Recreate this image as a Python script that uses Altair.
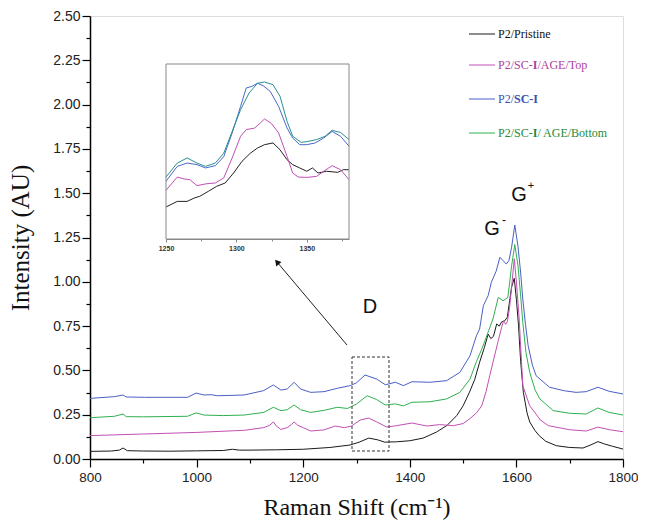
import altair as alt
import pandas as pd

# ---------------- data ----------------
series_names = ["P2/Pristine", "P2/SC-I/AGE/Top", "P2/SC-I", "P2/SC-I/ AGE/Bottom"]
line_colors = ["#1a1a1a", "#c24fb4", "#4a5fc4", "#2fb04f"]
inset_colors = ["#222222", "#c24fb4", "#4a68cc", "#2a8f8f"]

pristine_x = [800, 840, 855, 862, 870, 900, 950, 1000, 1050, 1067, 1080, 1100, 1150, 1200, 1250, 1288,
              1305, 1323, 1340, 1353, 1375, 1400, 1425, 1450, 1470, 1488, 1500, 1512, 1522, 1531, 1540,
              1547, 1552, 1557, 1563, 1568, 1572, 1578, 1583, 1587, 1591, 1596, 1600, 1604, 1608, 1613,
              1620, 1625, 1635, 1643, 1655, 1675, 1700, 1725, 1740, 1753, 1765, 1780, 1800]
pristine_y = [0.043, 0.045, 0.050, 0.062, 0.047, 0.045, 0.044, 0.046, 0.048, 0.055, 0.050, 0.050, 0.052,
              0.055, 0.065, 0.079, 0.095, 0.118, 0.108, 0.095, 0.097, 0.103, 0.118, 0.152, 0.190, 0.245,
              0.300, 0.377, 0.450, 0.546, 0.630, 0.705, 0.680, 0.692, 0.762, 0.750, 0.773, 0.780, 0.800,
              0.886, 0.970, 1.020, 0.900, 0.752, 0.550, 0.377, 0.260, 0.209, 0.160, 0.131, 0.100, 0.075,
              0.065, 0.062, 0.080, 0.098, 0.085, 0.072, 0.056]

top_x = [800, 900, 1000, 1090, 1126, 1137, 1144, 1150, 1158, 1170, 1178, 1183, 1190, 1200, 1214, 1239,
         1260, 1277, 1290, 1307, 1323, 1338, 1357, 1375, 1404, 1432, 1456, 1482, 1500, 1512, 1525, 1535,
         1543, 1550, 1558, 1566, 1572, 1576, 1580, 1583, 1587, 1591, 1596, 1600, 1605, 1612, 1625, 1634,
         1645, 1660, 1700, 1731, 1753, 1775, 1800]
top_y = [0.132, 0.141, 0.150, 0.162, 0.177, 0.190, 0.209, 0.185, 0.167, 0.177, 0.195, 0.209, 0.190,
         0.177, 0.158, 0.164, 0.186, 0.177, 0.185, 0.220, 0.231, 0.209, 0.180, 0.188, 0.203, 0.186,
         0.194, 0.188, 0.200, 0.226, 0.260, 0.300, 0.380, 0.470, 0.570, 0.668, 0.740, 0.780, 0.760,
         0.775, 0.850, 0.970, 1.130, 1.000, 0.800, 0.414, 0.300, 0.265, 0.220, 0.188, 0.165, 0.158,
         0.180, 0.165, 0.154]

sc_x = [800, 846, 862, 868, 902, 983, 999, 1014, 1027, 1039, 1089, 1126, 1144, 1158, 1170, 1183, 1195,
        1214, 1239, 1264, 1288, 1300, 1316, 1338, 1354, 1373, 1388, 1404, 1438, 1469, 1494, 1513, 1525,
        1531, 1538, 1547, 1553, 1562, 1569, 1575, 1581, 1586, 1591, 1597, 1603, 1608, 1612, 1617, 1622,
        1630, 1637, 1662, 1690, 1712, 1731, 1753, 1774, 1800]
sc_y = [0.342, 0.352, 0.361, 0.350, 0.348, 0.348, 0.372, 0.361, 0.363, 0.357, 0.361, 0.386, 0.418,
        0.389, 0.395, 0.433, 0.395, 0.376, 0.380, 0.399, 0.414, 0.430, 0.474, 0.451, 0.419, 0.433,
        0.414, 0.436, 0.433, 0.442, 0.489, 0.583, 0.696, 0.734, 0.865, 0.922, 0.997, 1.060, 1.138,
        1.120, 1.100, 1.120, 1.195, 1.320, 1.200, 1.050, 0.903, 0.760, 0.640, 0.530, 0.470, 0.405,
        0.385, 0.376, 0.380, 0.405, 0.382, 0.367]

bottom_x = [800, 846, 862, 868, 900, 983, 999, 1014, 1050, 1089, 1126, 1144, 1158, 1170, 1183, 1195,
            1214, 1240, 1264, 1283, 1300, 1320, 1338, 1354, 1373, 1388, 1404, 1438, 1469, 1494, 1513,
            1525, 1535, 1545, 1556, 1566, 1575, 1584, 1591, 1597, 1603, 1608, 1612, 1618, 1625, 1635,
            1644, 1669, 1700, 1731, 1753, 1774, 1800]
bottom_y = [0.233, 0.241, 0.254, 0.239, 0.238, 0.241, 0.260, 0.248, 0.245, 0.248, 0.263, 0.292, 0.273,
            0.278, 0.305, 0.278, 0.263, 0.275, 0.292, 0.285, 0.310, 0.357, 0.335, 0.305, 0.311, 0.300,
            0.320, 0.323, 0.339, 0.376, 0.451, 0.550, 0.620, 0.700, 0.790, 0.912, 0.893, 0.912, 1.090,
            1.210, 1.090, 0.920, 0.771, 0.600, 0.489, 0.390, 0.339, 0.273, 0.258, 0.254, 0.288, 0.263,
            0.248]

# inset (zoom of the D band, arbitrary intensity units 0-100)
in_pristine_x = [1250, 1258, 1265, 1270, 1274, 1280, 1286, 1292, 1298, 1304, 1310, 1315, 1320, 1326,
                 1331, 1336, 1340, 1345, 1350, 1354, 1358, 1364, 1372, 1376, 1380]
in_pristine_y = [18.3, 21.5, 21.5, 23.4, 24.4, 27.2, 30.1, 32.0, 37.7, 44.4, 49.1, 52.0, 53.9, 54.9,
                 51.0, 45.3, 42.5, 40.6, 38.7, 40.6, 37.7, 38.7, 38.1, 39.6, 39.6]
in_top_x = [1250, 1258, 1263, 1267, 1272, 1279, 1285, 1291, 1297, 1303, 1307, 1313, 1317, 1320, 1325,
            1330, 1336, 1340, 1344, 1350, 1357, 1362, 1368, 1374, 1380]
in_top_y = [27.8, 35.4, 34.3, 33.9, 30.5, 31.6, 32.0, 34.9, 46.3, 58.7, 62.5, 63.4, 66.3, 68.6, 65.9,
            60.6, 47.2, 37.7, 35.4, 35.2, 35.8, 38.7, 41.9, 39.6, 33.9]
in_sc_x = [1250, 1258, 1265, 1272, 1278, 1285, 1291, 1297, 1303, 1307, 1311, 1315, 1319, 1324, 1330,
           1336, 1340, 1345, 1350, 1356, 1362, 1368, 1374, 1380]
in_sc_y = [33.0, 41.5, 43.4, 42.5, 40.6, 41.9, 47.0, 60.6, 75.8, 86.3, 87.2, 89.0, 87.6, 84.4, 75.8,
           63.4, 57.7, 53.9, 53.9, 54.9, 57.7, 61.5, 58.7, 53.0]
in_bottom_x = [1250, 1258, 1265, 1272, 1278, 1285, 1291, 1297, 1303, 1309, 1315, 1320, 1326, 1331, 1336,
               1340, 1346, 1351, 1357, 1363, 1368, 1374, 1380]
in_bottom_y = [35.4, 43.4, 46.3, 43.4, 41.5, 43.4, 49.0, 61.5, 73.9, 83.4, 89.0, 89.7, 88.2, 81.5, 67.2,
               58.7, 55.2, 55.8, 56.8, 58.7, 62.1, 60.9, 56.8]

x_ticks = [800, 900, 1000, 1100, 1200, 1300, 1400, 1500, 1600, 1700, 1800]
y_ticks = [i * 0.125 for i in range(21)]
inset_ticks = [1250, 1275, 1300, 1325, 1350, 1375]


def frame(name, xs, ys):
    return pd.DataFrame({"series": name, "shift": xs, "intensity": ys, "order": range(len(xs))})


main_df = pd.concat([
    frame(series_names[0], pristine_x, pristine_y),
    frame(series_names[1], top_x, top_y),
    frame(series_names[2], sc_x, sc_y),
    frame(series_names[3], bottom_x, bottom_y),
])
inset_df = pd.concat([
    frame(series_names[0], in_pristine_x, in_pristine_y),
    frame(series_names[1], in_top_x, in_top_y),
    frame(series_names[2], in_sc_x, in_sc_y),
    frame(series_names[3], in_bottom_x, in_bottom_y),
])

W, H = 533, 443
DX, DY = 2, 1   # shift of the annotation layer relative to the first layout
SANS = "Liberation Sans"
SERIF = "Liberation Serif"

main = alt.Chart(main_df).mark_line(strokeWidth=1).encode(
    x=alt.X("shift:Q", scale=alt.Scale(domain=[800, 1800], nice=False, zero=False),
            title="Raman Shift (cm\u207b\u00b9)",
            axis=alt.Axis(values=x_ticks, grid=False, labelFlush=False, labelOverlap=False,
                          labelExpr="datum.value % 200 == 0 ? datum.label : ''",
                          format="d",
                          tickSize={"condition": {"test": "datum.value % 200 == 0", "value": 8}, "value": 4},
                          labelFont=SANS, labelFontSize=13.5, labelColor="#222", labelPadding=3,
                          domainColor="black", domainWidth=1.5, tickColor="black", tickWidth=1.2,
                          titleFont=SERIF, titleFontSize=24, titleFontWeight="normal", titleColor="#111",
                          titlePadding=12)),
    y=alt.Y("intensity:Q", scale=alt.Scale(domain=[0, 2.5], nice=False, zero=False),
            title="Intensity (AU)",
            axis=alt.Axis(values=y_ticks, grid=False, labelOverlap=False, format=".2f",
                          labelExpr="abs(datum.value*4 - round(datum.value*4)) < 0.001 ? datum.label : ''",
                          tickSize={"condition": {"test": "abs(datum.value*4 - round(datum.value*4)) < 0.001",
                                                  "value": 8}, "value": 4},
                          labelFont=SANS, labelFontSize=14, labelColor="#222", labelPadding=2,
                          domainColor="black", domainWidth=1.5, tickColor="black", tickWidth=1.2,
                          titleFont=SERIF, titleFontSize=25, titleFontWeight="normal", titleColor="#111",
                          titlePadding=19)),
    color=alt.Color("series:N", scale=alt.Scale(domain=series_names, range=line_colors), legend=None),
    order="order:Q",
)

inset_lines = alt.Chart(inset_df).mark_line(strokeWidth=1).encode(
    x=alt.X("shift:Q", scale=alt.Scale(domain=[1250, 1380], range=[74 + DX, 257 + DX], nice=False, zero=False),
            title=None,
            axis=alt.Axis(orient="bottom", offset=-(H - 222 - DY), values=inset_ticks, grid=False,
                          labelFlush=False, labelOverlap=False, format="d",
                          labelExpr="datum.value % 50 == 0 ? datum.label : ''",
                          tickSize={"condition": {"test": "datum.value % 50 == 0", "value": 3}, "value": 2},
                          labelFont=SANS, labelFontSize=7, labelFontWeight="bold", labelColor="#333",
                          labelPadding=2, domainColor="#888", tickColor="#888")),
    y=alt.Y("intensity:Q", scale=alt.Scale(domain=[0, 100], range=[222 + DY, 47 + DY], nice=False, zero=False),
            axis=None),
    color=alt.Color("series:N", scale=alt.Scale(domain=series_names, range=inset_colors), legend=None),
    order="order:Q",
)

one = pd.DataFrame({"k": [0]})

inset_frame = alt.Chart(one).mark_rect(fillOpacity=0, stroke="#888", strokeWidth=1).encode(
    x=alt.value(74 + DX), x2=alt.value(257 + DX), y=alt.value(47 + DY), y2=alt.value(222 + DY))

d_box = alt.Chart(one).mark_rect(fillOpacity=0, stroke="#333", strokeWidth=1, strokeDash=[3, 2]).encode(
    x=alt.value(260 + DX), x2=alt.value(297 + DX), y=alt.value(340 + DY), y2=alt.value(434 + DY))

arrow_line = alt.Chart(one).mark_rule(color="#222", strokeWidth=1).encode(
    x=alt.value(255 + DX), y=alt.value(328 + DY), x2=alt.value(185 + DX), y2=alt.value(245 + DY))
arrow_head = alt.Chart(one).mark_point(shape="triangle-up", filled=True, size=45, angle=320,
                                       color="#111", opacity=1).encode(
    x=alt.value(185 + DX), y=alt.value(245 + DY))


def txt(s, x, y, size, font=SANS, color="#111", weight="normal", align="center"):
    return alt.Chart(one).mark_text(text=s, font=font, fontSize=size, color=color, fontWeight=weight,
                                    align=align, baseline="middle").encode(
        x=alt.value(x + DX), y=alt.value(y + DY))


labels = [
    txt("D", 278, 290, 20),
    txt("G", 400, 212, 20),
    txt("-", 412, 203, 12),
    txt("G", 427, 178, 20),
    txt("+", 439, 169, 11),
]

# legend
legend_rows_y = [17, 48, 82, 116]
text_colors = ["#111111", "#b0409f", "#3a4fb0", "#1f8a3a"]
legend = []
for i, yy in enumerate(legend_rows_y):
    legend.append(alt.Chart(one).mark_rule(color=line_colors[i], strokeWidth=1).encode(
        x=alt.value(377 + DX), x2=alt.value(403 + DX), y=alt.value(yy + DY)))
LX = 406
legend += [
    txt("P2/Pristine", LX, legend_rows_y[0], 12, SERIF, text_colors[0], align="left"),
    txt("P2/SC-", LX, legend_rows_y[1], 12, SERIF, text_colors[1], align="left"),
    txt("I", LX + 34.7, legend_rows_y[1], 12, SERIF, text_colors[1], "bold", align="left"),
    txt("/AGE/Top", LX + 39.4, legend_rows_y[1], 12, SERIF, text_colors[1], align="left"),
    txt("P2/", LX, legend_rows_y[2], 12, SERIF, text_colors[2], align="left"),
    txt("SC-I", LX + 16, legend_rows_y[2], 12, SERIF, text_colors[2], "bold", align="left"),
    txt("P2/SC-", LX, legend_rows_y[3], 12, SERIF, text_colors[3], align="left"),
    txt("I", LX + 34.7, legend_rows_y[3], 12, SERIF, text_colors[3], "bold", align="left"),
    txt("/ AGE/Bottom", LX + 39.4, legend_rows_y[3], 12, SERIF, text_colors[3], align="left"),
]

chart = alt.layer(main, inset_lines, inset_frame, d_box, arrow_line, arrow_head, *labels, *legend).resolve_scale(
    x="independent", y="independent", color="independent"
).properties(
    width=W, height=H, autosize="none",
    padding={"left": 82, "top": 8, "right": 15, "bottom": 62},
).configure_view(stroke="black", strokeWidth=1.5).configure(background="white")

chart.save("out.html", embed_options={"renderer": "svg", "actions": False})
